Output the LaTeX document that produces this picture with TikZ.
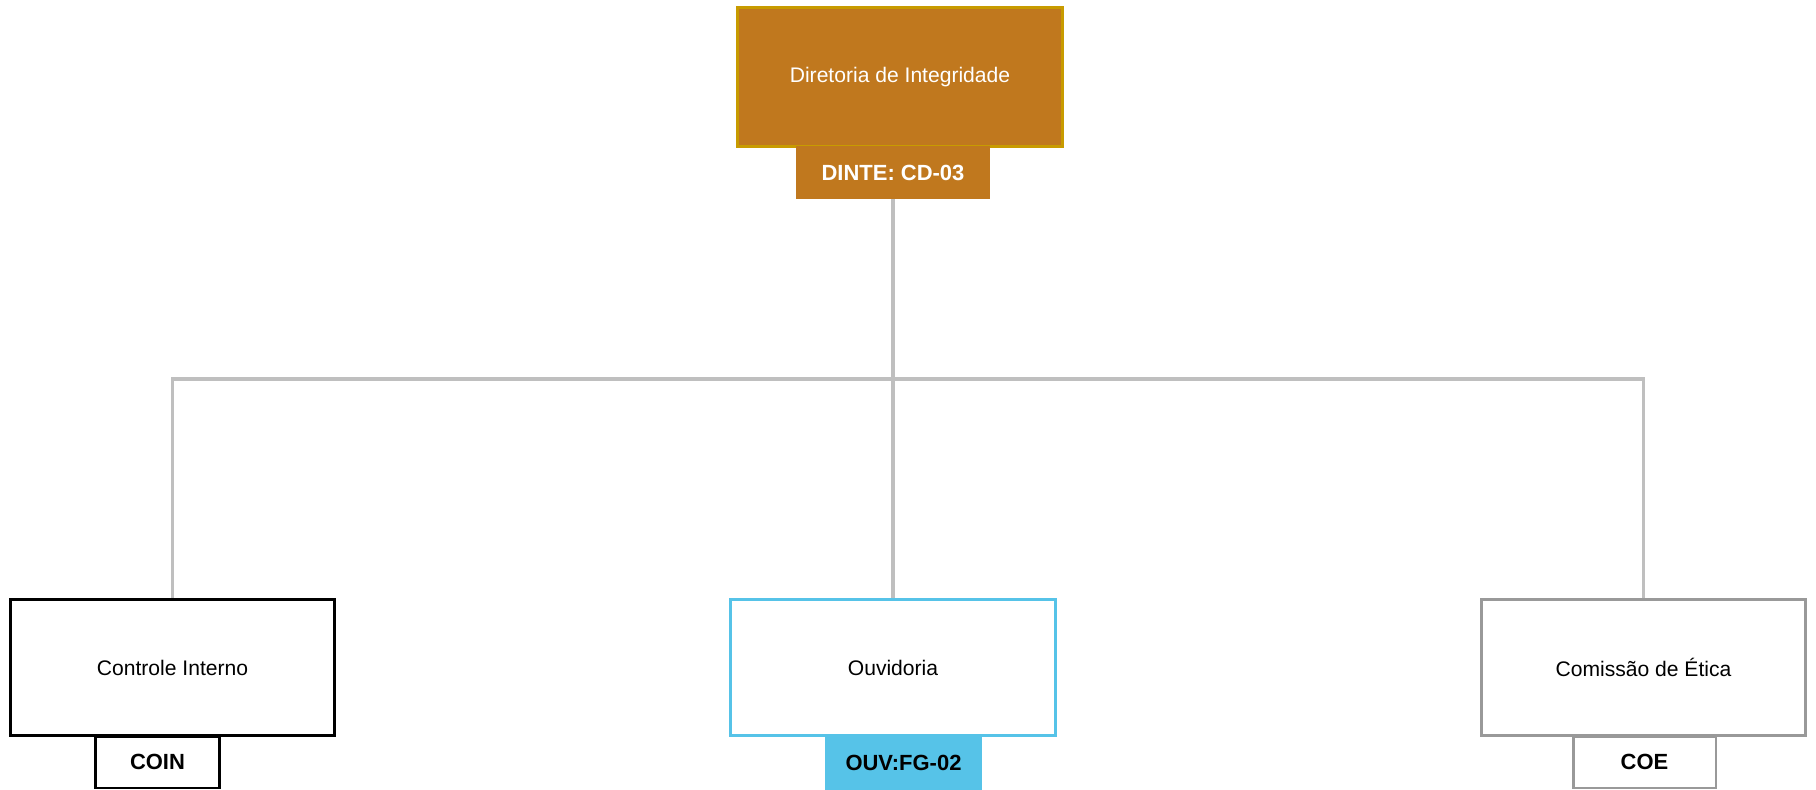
\documentclass[tikz,border=0pt]{standalone}
\usepackage{fontspec}
\setmainfont{Liberation Sans}
\usetikzlibrary{positioning}
\definecolor{dirFill}{RGB}{192,120,30}
\definecolor{dirEdge}{RGB}{200,155,0}
\definecolor{ouvBlue}{RGB}{86,195,232}
\definecolor{coeGray}{RGB}{153,153,153}
\definecolor{linkGray}{RGB}{191,191,191}
\tikzset{
  unit/.style={rectangle, draw=black, fill=white, line width=1.7pt, inner sep=0pt,
              font=\fontsize{12}{14}\selectfont, minimum width=6.5cm, minimum height=2.74cm},
  tag/.style={rectangle, draw=black, fill=white, line width=1.7pt, inner sep=0pt,
              font=\fontsize{12.5}{15}\selectfont\bfseries, minimum height=1.04cm},
  link/.style={draw=linkGray, line width=1.8pt}
}

\begin{document}
\begin{tikzpicture}[x=0.02cm, y=-0.02cm]
\useasboundingbox (0,0) rectangle (1816,790);

% Top box
\node[unit, draw=dirEdge, fill=dirFill, text=white, minimum width=6.52cm, minimum height=2.8cm]
  (dinte) at (900,77) {Diretoria de Integridade};
\node[tag, draw=dirFill, fill=dirFill, text=white, minimum width=3.84cm, minimum height=1.02cm]
  (dinteTag) at (893,172.5) {DINTE: CD-03};

% Bottom boxes
\node[unit] (coin) at (172.5,667.5) {Controle Interno};
\node[unit, draw=ouvBlue] (ouv) at (893,667.5) {Ouvidoria};
\node[unit, draw=coeGray] (coe) at (1643.5,667.5) {Comissão de Ética};

% Tags
\node[tag, minimum width=2.5cm] (coinTag) at (157.5,762) {COIN};
\node[tag, draw=ouvBlue, fill=ouvBlue, minimum width=3.1cm, minimum height=1.08cm]
  (ouvTag) at (903.5,763) {OUV:FG-02};
\node[tag, draw=coeGray, minimum width=2.86cm] (coeTag) at (1644.5,762) {COE};

% Connectors
\coordinate (bus) at (893,379);
\draw[link] (dinteTag.south) -- (ouv.north);
\draw[link] (coin.north) |- (bus) -| (coe.north);

\end{tikzpicture}
\end{document}
